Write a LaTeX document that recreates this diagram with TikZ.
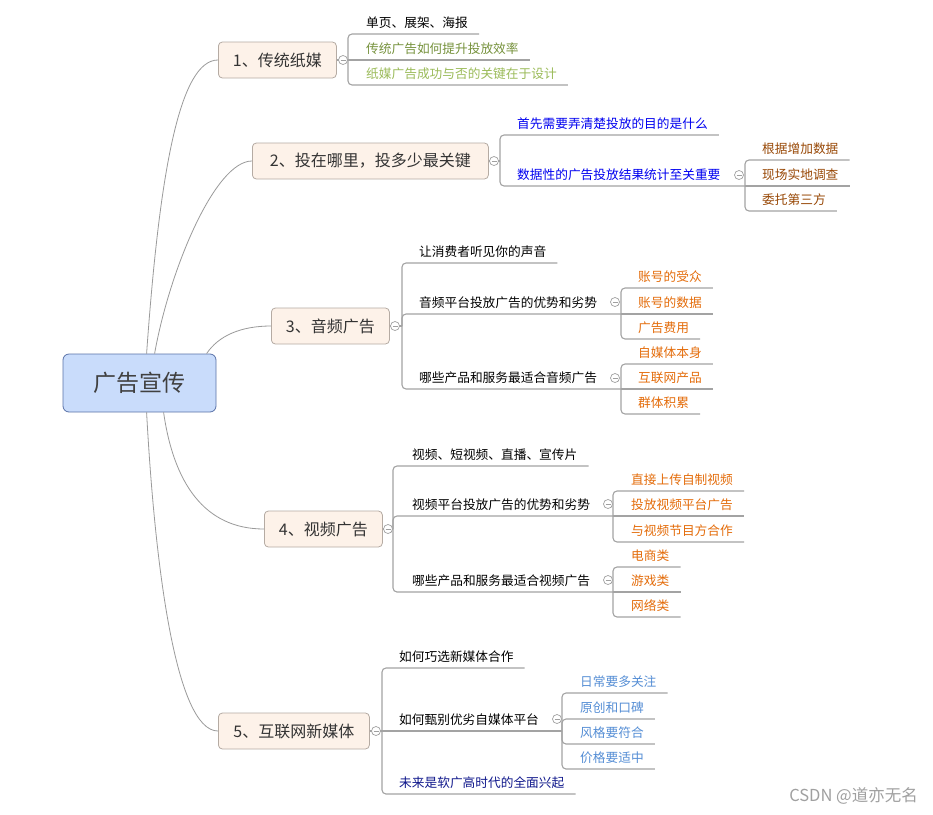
\documentclass[tikz,border=0pt]{standalone}
\usepackage{fontspec}
\setmainfont{Noto Sans CJK SC}
\usepackage{tikz}

\definecolor{rootfill}{HTML}{C9DCFB}
\definecolor{rootline}{HTML}{5A72A8}
\definecolor{roottext}{HTML}{404040}
\definecolor{topicfill}{HTML}{FDF2E9}
\definecolor{topicline}{HTML}{B5ABA3}
\definecolor{topictext}{HTML}{333333}
\definecolor{trunkline}{HTML}{9A9A9A}
\definecolor{branchline}{HTML}{A3A3A3}
\definecolor{foldline}{HTML}{A0A0A0}
\definecolor{olive}{HTML}{76923C}
\definecolor{leaf}{HTML}{9BBB59}
\definecolor{pureblue}{HTML}{0000F0}
\definecolor{brown}{HTML}{984806}
\definecolor{orange}{HTML}{E46C0A}
\definecolor{steel}{HTML}{558ED5}
\definecolor{navy}{HTML}{10188C}
\definecolor{wmark}{HTML}{A0A0A0}

\begin{document}
\begin{tikzpicture}[x=1pt,y=-1pt,
	root/.style={draw=rootline, fill=rootfill, rounded corners=6pt, line width=0.8pt, minimum width=153pt, minimum height=58pt, text=roottext, font=\fontsize{23}{26}\selectfont},
	topic/.style={draw=topicline, fill=topicfill, rounded corners=4pt, line width=0.8pt, minimum height=36pt, anchor=west, text=topictext, font=\fontsize{16}{19}\selectfont},
	kid/.style={anchor=south west, inner sep=0pt, text depth=6.7pt, font=\fontsize{12.7}{15}\selectfont},
	fold/.style={circle, draw=foldline, fill=white, line width=0.7pt, minimum size=9pt, inner sep=0pt,
		path picture={\draw[foldline, line width=0.7pt] ([xshift=-2.5pt]path picture bounding box.center) -- ([xshift=2.5pt]path picture bounding box.center);}},
	trunk/.style={draw=trunkline, line width=0.8pt},
	branch/.style={draw=branchline, line width=1.1pt, rounded corners=4pt}]
	\path[use as bounding box, fill=white] (0,0) rectangle (933,814);

	\node[root] (root) at (139.5,383) {广告宣传};
	\node[topic, minimum width=118pt] (n1) at (218,60) {1、传统纸媒};
	\node[topic, minimum width=236pt] (n2) at (252,161) {2、投在哪里，投多少最关键};
	\node[topic, minimum width=118pt] (n3) at (271,326) {3、音频广告};
	\node[topic, minimum width=118pt] (n4) at (264,529) {4、视频广告};
	\node[topic, minimum width=151pt] (n5) at (218,731) {5、互联网新媒体};

	\draw[trunk] ([xshift=84pt]root.north west) .. controls +(13,-184) and +(-38,0) .. (n1.west);
	\draw[trunk] ([xshift=92pt]root.north west) .. controls +(15,-84) and +(-37,0) .. (n2.west);
	\draw[trunk] ([xshift=144pt]root.north west) .. controls +(12,-18) and +(-30,0) .. (n3.west);
	\draw[trunk] ([xshift=101pt]root.south west) .. controls +(10,70) and +(-60,0) .. (n4.west);
	\draw[trunk] ([xshift=84pt]root.south west) .. controls +(8,148) and +(-43,0) .. (n5.west);

	% 1
	\coordinate (b1) at (348,60);
	\node[kid, text=black] (k11) at (366,34) {单页、展架、海报};
	\node[kid, text=olive] (k12) at (366,60) {传统广告如何提升投放效率};
	\node[kid, text=leaf] (k13) at (366,85) {纸媒广告成功与否的关键在于设计};
	\draw[branch] (n1.east) -- (b1);
	\draw[branch] (b1) |- ([xshift=11pt]k11.south east);
	\draw[branch] (b1) -- ([xshift=11pt]k12.south east);
	\draw[branch] (b1) |- ([xshift=11pt]k13.south east);

	% 2
	\coordinate (b2) at (500,161);
	\coordinate (b22) at (745,186);
	\node[kid, text=pureblue] (k21) at (517,135) {首先需要弄清楚投放的目的是什么};
	\node[kid, text=pureblue] (k22) at (517,186) {数据性的广告投放结果统计至关重要};
	\node[kid, text=brown] (k221) at (762,160) {根据增加数据};
	\node[kid, text=brown] (k222) at (762,186) {现场实地调查};
	\node[kid, text=brown] (k223) at (762,211) {委托第三方};
	\draw[branch] (n2.east) -- (b2);
	\draw[branch] (b2) |- ([xshift=11pt]k21.south east);
	\draw[branch] (b2) |- (b22);
	\draw[branch] (b22) |- ([xshift=11pt]k221.south east);
	\draw[branch] (b22) -- ([xshift=11pt]k222.south east);
	\draw[branch] (b22) |- ([xshift=11pt]k223.south east);

	% 3
	\coordinate (b3) at (402,326);
	\coordinate (b32) at (621,314);
	\coordinate (b33) at (621,389);
	\node[kid, text=black] (k31) at (419,263) {让消费者听见你的声音};
	\node[kid, text=black] (k32) at (419,314) {音频平台投放广告的优势和劣势};
	\node[kid, text=black] (k33) at (419,389) {哪些产品和服务最适合音频广告};
	\node[kid, text=orange] (k321) at (638,288) {账号的受众};
	\node[kid, text=orange] (k322) at (638,314) {账号的数据};
	\node[kid, text=orange] (k323) at (638,339) {广告费用};
	\node[kid, text=orange] (k331) at (638,364) {自媒体本身};
	\node[kid, text=orange] (k332) at (638,389) {互联网产品};
	\node[kid, text=orange] (k333) at (638,414) {群体积累};
	\draw[branch] (n3.east) -- (b3);
	\draw[branch] (b3) |- ([xshift=11pt]k31.south east);
	\draw[branch] (b3) |- (b32);
	\draw[branch] (b3) |- (b33);
	\draw[branch] (b32) |- ([xshift=11pt]k321.south east);
	\draw[branch] (b32) -- ([xshift=11pt]k322.south east);
	\draw[branch] (b32) |- ([xshift=11pt]k323.south east);
	\draw[branch] (b33) |- ([xshift=11pt]k331.south east);
	\draw[branch] (b33) -- ([xshift=11pt]k332.south east);
	\draw[branch] (b33) |- ([xshift=11pt]k333.south east);

	% 4
	\coordinate (b4) at (393,529);
	\coordinate (b42) at (613,516);
	\coordinate (b43) at (613,592);
	\node[kid, text=black] (k41) at (412,466) {视频、短视频、直播、宣传片};
	\node[kid, text=black] (k42) at (412,516) {视频平台投放广告的优势和劣势};
	\node[kid, text=black] (k43) at (412,592) {哪些产品和服务最适合视频广告};
	\node[kid, text=orange] (k421) at (631,491) {直接上传自制视频};
	\node[kid, text=orange] (k422) at (631,516) {投放视频平台广告};
	\node[kid, text=orange] (k423) at (631,542) {与视频节目方合作};
	\node[kid, text=orange] (k431) at (631,567) {电商类};
	\node[kid, text=orange] (k432) at (631,592) {游戏类};
	\node[kid, text=orange] (k433) at (631,617) {网络类};
	\draw[branch] (n4.east) -- (b4);
	\draw[branch] (b4) |- ([xshift=11pt]k41.south east);
	\draw[branch] (b4) |- (b42);
	\draw[branch] (b4) |- (b43);
	\draw[branch] (b42) |- ([xshift=11pt]k421.south east);
	\draw[branch] (b42) -- ([xshift=11pt]k422.south east);
	\draw[branch] (b42) |- ([xshift=11pt]k423.south east);
	\draw[branch] (b43) |- ([xshift=11pt]k431.south east);
	\draw[branch] (b43) -- ([xshift=11pt]k432.south east);
	\draw[branch] (b43) |- ([xshift=11pt]k433.south east);

	% 5
	\coordinate (b5) at (382,731);
	\coordinate (b52) at (562,731);
	\node[kid, text=black] (k51) at (399,668) {如何巧选新媒体合作};
	\node[kid, text=black] (k52) at (399,731) {如何甄别优劣自媒体平台};
	\node[kid, text=navy] (k53) at (399,794) {未来是软广高时代的全面兴起};
	\node[kid, text=steel] (k521) at (580,693) {日常要多关注};
	\node[kid, text=steel] (k522) at (580,719) {原创和口碑};
	\node[kid, text=steel] (k523) at (580,744) {风格要符合};
	\node[kid, text=steel] (k524) at (580,769) {价格要适中};
	\draw[branch] (n5.east) -- (b5);
	\draw[branch] (b5) |- ([xshift=11pt]k51.south east);
	\draw[branch] (b5) -- (b52);
	\draw[branch] (b5) |- ([xshift=11pt]k53.south east);
	\draw[branch] (b52) |- ([xshift=11pt]k521.south east);
	\draw[branch] (b52) |- ([xshift=11pt]k522.south east);
	\draw[branch] (b52) |- ([xshift=11pt]k523.south east);
	\draw[branch] (b52) |- ([xshift=11pt]k524.south east);

	% fold marks
	\node[fold] (f1) at (343,60) {};
	\node[fold] (f2) at (494,161) {};
	\node[fold] (f22) at (739,175) {};
	\node[fold] (f3) at (395,326) {};
	\node[fold] (f32) at (615,302) {};
	\node[fold] (f33) at (615,378) {};
	\node[fold] (f4) at (388,529) {};
	\node[fold] (f42) at (608,504) {};
	\node[fold] (f43) at (608,580) {};
	\node[fold] (f5) at (376,731) {};
	\node[fold] (f52) at (557,719) {};

	\node[anchor=east, inner sep=0pt, text=wmark, font=\fontsize{16.5}{19}\selectfont] (mark) at (918,796) {CSDN @道亦无名};
\end{tikzpicture}
\end{document}
